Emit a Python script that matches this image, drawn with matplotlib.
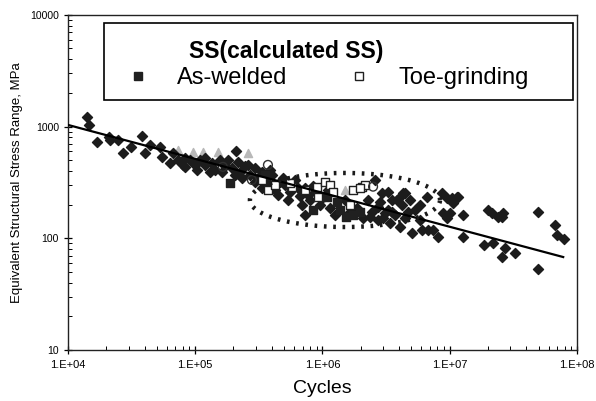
import numpy as np
import matplotlib
matplotlib.use("Agg")
import matplotlib.pyplot as plt
from matplotlib.patches import Rectangle
from matplotlib.lines import Line2D
from matplotlib.ticker import LogLocator, FixedLocator, NullFormatter

plt.rcParams['font.family'] = ['Liberation Sans', 'DejaVu Sans']

# cycles / stress range (MPa)
diamond_n = [1.41e4, 1.46e4, 1.69e4, 2.10e4, 2.14e4, 2.47e4, 2.71e4, 3.13e4, 3.82e4, 4.03e4,
             4.41e4, 5.28e4, 5.48e4, 6.34e4, 6.69e4, 8.02e4, 8.30e4, 1.03e5, 2.09e5, 7.31e4, 9.10e4,
             1.09e5, 1.19e5, 1.36e5, 1.43e5, 1.56e5, 1.71e5, 1.95e5, 2.17e5, 2.25e5, 2.46e5,
             2.69e5, 2.95e5, 3.11e5, 3.35e5, 3.73e5, 4.01e5, 4.24e5, 4.64e5, 5.08e5, 5.56e5,
             6.08e5, 6.65e5, 7.28e5, 7.98e5, 8.73e5, 9.56e5, 1.05e6, 1.10e6, 7.28e5,
             2.59e6, 2.94e6, 3.27e6, 3.52e6, 4.06e6, 4.45e6, 4.87e6, 2.73e6, 3.10e6, 3.52e6,
             4.06e6, 5.05e6, 6.05e6, 6.75e6, 8.09e6, 6.62e6, 8.69e6, 9.51e6, 1.14e7, 8.85e6,
             9.51e6, 5.83e6, 4.45e6, 2.73e6, 2.36e6, 3.85e6, 4.29e6, 2.99e6, 3.39e6, 1.06e7,
             7.38e6, 1.04e7, 1.16e7, 1.00e7, 1.27e7, 1.27e7, 2.00e7, 2.15e7, 2.39e7, 2.57e7,
             2.62e7, 4.94e7, 1.86e7, 2.19e7, 2.72e7, 3.26e7, 2.57e7, 4.94e7, 6.71e7, 6.97e7,
             7.91e7,
             8.31e4, 9.95e4, 1.19e5, 1.31e5, 1.62e5, 1.81e5, 2.05e5, 2.33e5, 2.60e5, 2.95e5,
             3.35e5, 3.87e5, 4.47e5, 4.89e5, 5.36e5, 6.42e5, 6.90e5, 7.69e5, 8.42e5, 9.91e5,
             1.15e6, 1.25e6, 1.50e6, 1.64e6, 1.87e6, 2.08e6, 2.28e6, 2.45e6, 2.83e6, 3.27e6,
             3.72e6, 4.22e6, 4.70e6, 5.33e6, 5.83e6]
diamond_s = [1220, 1035, 730, 807, 760, 760, 581, 657, 825, 581,
             686, 657, 535, 473, 581, 454, 436, 409, 605, 504, 504,
             504, 454, 473, 409, 504, 445, 427, 483, 393, 445,
             369, 427, 347, 393, 313, 369, 271, 320, 300, 260,
             333, 239, 282, 220, 260, 199, 239, 271, 162,
             333, 255, 260, 220, 234, 255, 220, 191, 169, 172,
             126, 112, 119, 119, 103, 234, 255, 230, 234, 169,
             152, 146, 152, 146, 155, 220, 255, 152, 137, 207,
             119, 230, 234, 169, 162, 103, 180, 169, 155, 155,
             169, 172, 87, 91, 82, 74, 68, 53, 132, 107,
             99,
             524, 454, 524, 393, 393, 504, 369, 347, 454, 320,
             282, 409, 244, 347, 220, 282, 199, 244, 294, 230,
             187, 162, 220, 172, 187, 152, 220, 172, 211, 180,
             162, 199, 172, 180, 199]

welded_n = [1.87e5, 8.41e5, 1.74e6, 1.97e6, 1.37e6, 1.30e6, 1.08e6, 1.53e6, 3.53e5, 5.56e5]
welded_s = [313, 180, 162, 172, 180, 211, 234, 155, 369, 300]

grind_n = [3.35e5, 3.73e5, 4.24e5, 5.75e5, 7.28e5, 9.06e5, 9.23e5, 1.05e6, 5.56e5,
           1.74e6, 2.04e6, 2.16e6, 1.15e6, 1.21e6, 1.97e6, 1.65e6]
grind_s = [333, 271, 300, 288, 271, 288, 234, 320, 313,
           271, 288, 300, 300, 260, 282, 199]

tri_n = [7.31e4, 9.59e4, 1.15e5, 1.51e5, 2.60e5, 1.50e6]
tri_s = [618, 593, 593, 593, 581, 271]

circ_n = [1.65e5, 2.79e5, 3.73e5, 2.50e6]
circ_s = [436, 333, 454, 290]

# fitted curve end points
fit_n = [1.0e4, 7.8e7]
fit_s = [1035, 68]

# dotted ellipse (log10 space)
ell_cx, ell_cy = 6.177, 2.343
ell_a, ell_b = 0.747, 0.242

fig = plt.figure(figsize=(5.96, 4.01), dpi=100)
ax = fig.add_axes([0.114, 0.127, 0.854, 0.836])
ax.set_xscale('log')
ax.set_yscale('log')
ax.set_xlim(1e4, 1e8)
ax.set_ylim(10, 1e4)

ax.scatter(tri_n, tri_s, marker='^', s=34, color='#b8b8b8', zorder=2)
ax.scatter(diamond_n, diamond_s, marker='D', s=26, color='#1c1c1c', zorder=3)
ax.scatter(welded_n, welded_s, marker='s', s=36, color='#202020', zorder=3)
ax.scatter(grind_n, grind_s, marker='s', s=36, facecolor='white', edgecolor='#202020',
           linewidth=1.0, zorder=4)
ax.scatter(circ_n, circ_s, marker='o', s=40, facecolor='none', edgecolor='#303030',
           linewidth=1.0, zorder=4)

ax.plot(fit_n, fit_s, color='black', lw=1.6, zorder=5)

t = np.linspace(0, 2 * np.pi, 300)
ax.plot(10 ** (ell_cx + ell_a * np.cos(t)), 10 ** (ell_cy + ell_b * np.sin(t)),
        color='#1a1a1a', lw=3.2, linestyle=(0, (0.6, 1.5)), zorder=6)

# ticks, Excel style
ax.xaxis.set_major_locator(FixedLocator([1e4, 1e5, 1e6, 1e7, 1e8]))
ax.set_xticklabels(['1.E+04', '1.E+05', '1.E+06', '1.E+07', '1.E+08'])
ax.yaxis.set_major_locator(FixedLocator([10, 100, 1000, 10000]))
ax.set_yticklabels(['10', '100', '1000', '10000'])
ax.xaxis.set_minor_locator(LogLocator(base=10, subs=np.arange(2, 10)))
ax.yaxis.set_minor_locator(LogLocator(base=10, subs=np.arange(2, 10)))
ax.xaxis.set_minor_formatter(NullFormatter())
ax.yaxis.set_minor_formatter(NullFormatter())
ax.tick_params(which='major', direction='inout', length=6, width=0.9, labelsize=7.5)
ax.tick_params(axis='x', which='major', labelsize=8, pad=4)
ax.tick_params(which='minor', direction='in', length=3, width=0.7)
for sp in ax.spines.values():
    sp.set_linewidth(1.0)
    sp.set_color('#222222')

ax.set_xlabel('Cycles', fontsize=14, labelpad=7)
ax.set_ylabel('Equivalent Structural Stress Range, MPa', fontsize=9.5, labelpad=5)

# legend box
ax.add_patch(Rectangle((0.071, 0.746), 0.921, 0.230, transform=ax.transAxes,
                       facecolor='white', edgecolor='black', lw=1.2, zorder=7))
ax.text(0.238, 0.892, 'SS(calculated SS)', transform=ax.transAxes, fontsize=16.5,
        fontweight='bold', va='center', ha='left', zorder=8)
handles = [Line2D([], [], marker='s', ls='none', color='#202020', markersize=6),
           Line2D([], [], marker='s', ls='none', markerfacecolor='white',
                  markeredgecolor='#202020', markersize=6)]
leg = ax.legend(handles, ['As-welded', 'Toe-grinding'], ncol=2, frameon=False,
                loc='center left', bbox_to_anchor=(0.107, 0.812), fontsize=17,
                handlelength=0.5, handletextpad=1.4, columnspacing=2.8,
                borderpad=0.4, borderaxespad=0)
leg.set_zorder(9)

fig.savefig('out.png', dpi=100)
